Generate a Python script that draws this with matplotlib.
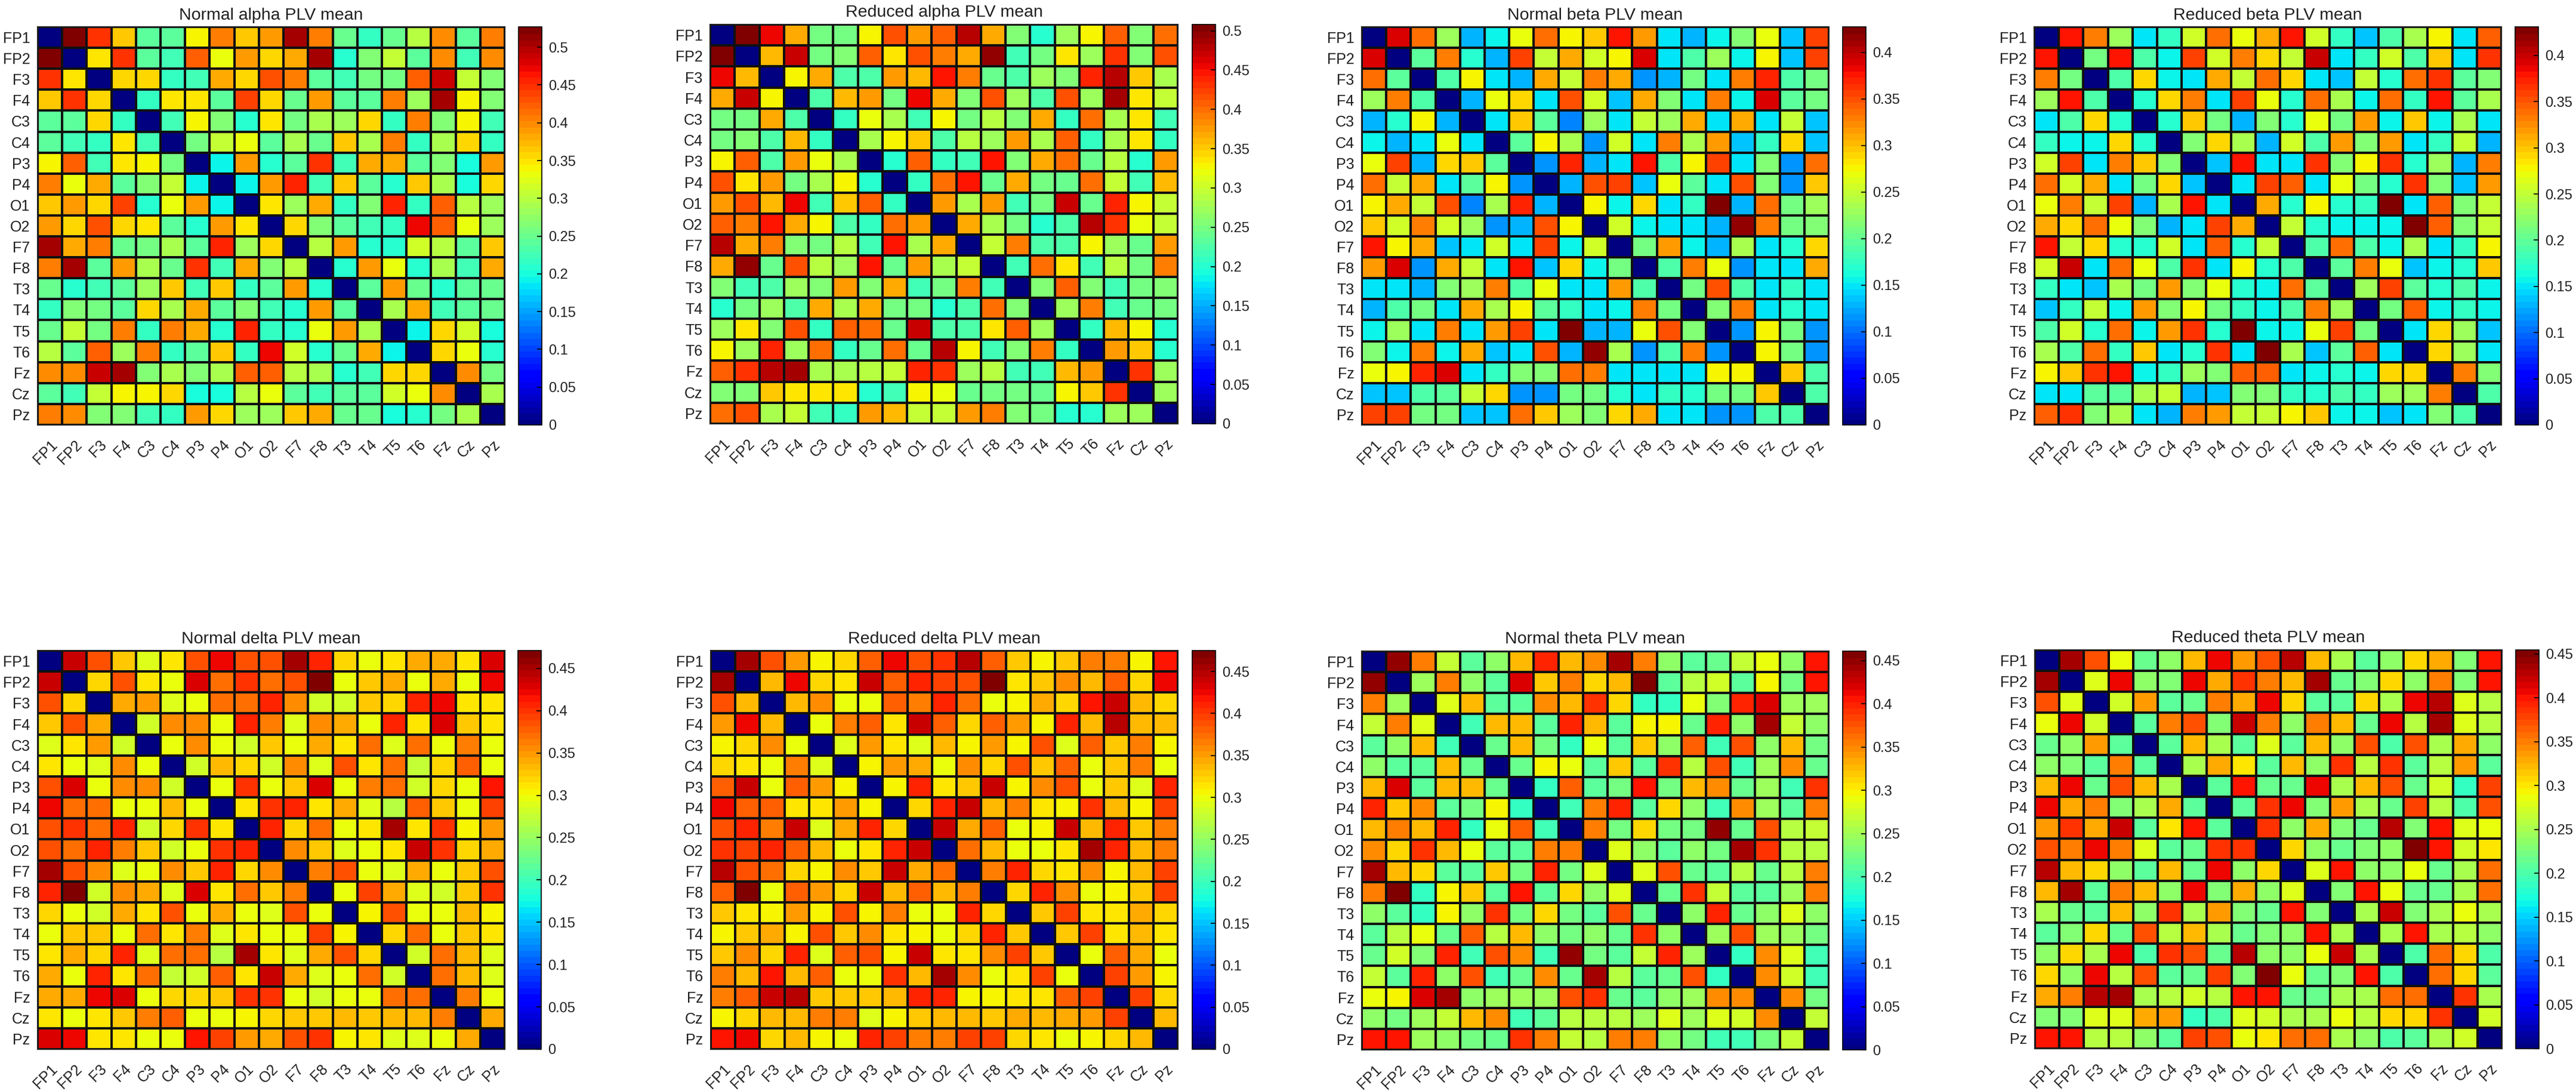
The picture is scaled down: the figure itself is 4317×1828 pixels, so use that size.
import numpy as np
import matplotlib
matplotlib.use("Agg")
import matplotlib.pyplot as plt

plt.rcParams['font.family'] = ['Liberation Sans', 'DejaVu Sans']

channels = ['FP1','FP2','F3','F4','C3','C4','P3','P4','O1','O2','F7','F8','T3','T4','T5','T6','Fz','Cz','Pz']

normal_alpha = [
 [.527,.45,.37,.245,.24,.34,.41,.37,.39,.51,.41,.25,.22,.25,.30,.40,.245,.41],
 [.35,.45,.24,.23,.42,.33,.39,.36,.38,.51,.21,.27,.31,.24,.40,.23,.40],
 [.36,.36,.22,.23,.38,.36,.43,.41,.24,.23,.26,.26,.42,.49,.31,.27],
 [.22,.35,.35,.24,.44,.36,.25,.39,.24,.24,.41,.28,.51,.34,.27],
 [.23,.34,.27,.21,.35,.26,.29,.28,.36,.22,.41,.27,.34,.23],
 [.26,.31,.33,.24,.29,.25,.37,.29,.41,.22,.29,.36,.22],
 [.19,.39,.21,.24,.45,.23,.38,.38,.24,.27,.20,.39],
 [.19,.39,.46,.23,.37,.24,.21,.37,.29,.20,.36],
 [.35,.28,.38,.22,.27,.46,.22,.42,.30,.28],
 [.36,.27,.24,.23,.22,.47,.42,.33,.28],
 [.30,.39,.21,.21,.32,.30,.24,.37],
 [.21,.39,.33,.21,.29,.23,.38],
 [.24,.39,.25,.21,.24,.25],
 [.29,.38,.23,.24,.25],
 [.19,.36,.32,.20],
 [.36,.33,.21],
 [.40,.26],
 [.29],
]
reduced_alpha = [
 [.508,.46,.37,.25,.25,.33,.42,.38,.41,.48,.37,.26,.20,.27,.33,.41,.26,.40],
 [.36,.47,.25,.26,.41,.34,.42,.39,.37,.50,.22,.25,.34,.27,.43,.26,.42],
 [.33,.37,.23,.23,.38,.36,.45,.39,.24,.23,.27,.26,.44,.48,.35,.28],
 [.23,.36,.38,.25,.46,.37,.26,.42,.27,.23,.42,.27,.49,.34,.30],
 [.21,.32,.28,.22,.33,.25,.29,.26,.37,.21,.40,.28,.34,.22],
 [.28,.33,.35,.23,.29,.27,.38,.28,.41,.21,.28,.34,.21],
 [.20,.41,.21,.22,.45,.26,.37,.40,.24,.29,.20,.38],
 [.21,.40,.45,.24,.37,.25,.24,.40,.30,.22,.36],
 [.38,.28,.38,.22,.25,.47,.24,.44,.33,.30],
 [.37,.28,.25,.20,.23,.48,.43,.32,.30],
 [.30,.39,.23,.23,.33,.27,.24,.38],
 [.22,.40,.34,.22,.29,.25,.39],
 [.26,.41,.26,.22,.25,.26],
 [.27,.39,.22,.24,.25],
 [.21,.36,.33,.20],
 [.38,.35,.20],
 [.43,.27],
 [.27],
]
normal_beta = [
 [.39,.34,.23,.13,.16,.27,.34,.28,.30,.38,.32,.15,.13,.16,.22,.27,.14,.36],
 [.20,.33,.17,.13,.36,.25,.31,.26,.28,.39,.15,.19,.23,.16,.28,.14,.36],
 [.19,.28,.15,.13,.31,.25,.33,.31,.12,.13,.21,.15,.33,.37,.19,.21],
 [.13,.27,.29,.15,.35,.26,.14,.31,.22,.15,.33,.16,.39,.20,.21],
 [.15,.30,.20,.11,.23,.15,.25,.23,.31,.15,.31,.15,.25,.14],
 [.20,.28,.24,.12,.26,.15,.33,.24,.32,.14,.18,.29,.14],
 [.12,.37,.13,.15,.38,.19,.28,.36,.15,.22,.12,.34],
 [.13,.35,.36,.14,.27,.20,.15,.35,.22,.12,.30],
 [.28,.16,.29,.15,.18,.4275,.13,.34,.21,.23],
 [.26,.16,.15,.15,.13,.42,.33,.21,.22],
 [.21,.32,.16,.13,.24,.15,.17,.29],
 [.19,.33,.27,.12,.15,.15,.31],
 [.21,.35,.19,.15,.18,.15],
 [.22,.33,.15,.17,.15],
 [.12,.28,.21,.12],
 [.28,.21,.12],
 [.30,.19],
 [.19],
]
reduced_beta = [
 [.38,.33,.23,.15,.18,.26,.34,.27,.31,.38,.26,.18,.14,.19,.24,.28,.15,.35],
 [.21,.38,.19,.16,.36,.26,.33,.29,.25,.40,.15,.18,.26,.19,.30,.15,.37],
 [.19,.29,.16,.15,.31,.25,.34,.29,.15,.14,.25,.17,.34,.37,.20,.22],
 [.17,.29,.33,.15,.36,.27,.17,.34,.24,.16,.34,.18,.38,.20,.24],
 [.17,.30,.21,.13,.22,.17,.27,.21,.32,.16,.30,.16,.24,.15],
 [.22,.29,.24,.13,.26,.19,.32,.22,.32,.15,.18,.25,.13],
 [.14,.38,.15,.15,.37,.22,.28,.37,.17,.23,.13,.33],
 [.15,.36,.35,.15,.27,.21,.17,.37,.22,.14,.32],
 [.31,.17,.28,.17,.18,.431,.15,.35,.22,.25],
 [.25,.17,.16,.16,.16,.431,.35,.22,.25],
 [.19,.34,.19,.16,.24,.15,.18,.28],
 [.20,.33,.27,.14,.16,.17,.30],
 [.23,.36,.20,.17,.19,.16],
 [.21,.35,.16,.18,.16],
 [.15,.29,.23,.14],
 [.29,.23,.15],
 [.33,.22],
 [.19],
]
normal_delta = [
 [.44,.39,.33,.29,.31,.385,.42,.39,.39,.45,.41,.32,.30,.315,.34,.34,.31,.43],
 [.32,.385,.315,.295,.43,.37,.40,.37,.385,.471,.30,.33,.345,.30,.34,.30,.42],
 [.34,.35,.29,.295,.375,.37,.41,.36,.28,.285,.33,.32,.41,.42,.315,.31],
 [.28,.36,.36,.295,.41,.365,.29,.355,.34,.30,.41,.315,.43,.33,.31],
 [.295,.36,.295,.28,.33,.295,.345,.31,.375,.29,.37,.30,.365,.30],
 [.285,.335,.32,.285,.355,.29,.385,.31,.37,.275,.32,.38,.30],
 [.30,.40,.30,.325,.43,.30,.365,.375,.28,.32,.295,.415],
 [.31,.40,.41,.315,.34,.29,.265,.38,.325,.295,.395],
 [.41,.32,.37,.295,.31,.45,.31,.40,.305,.35],
 [.36,.325,.29,.295,.315,.44,.40,.32,.345],
 [.365,.39,.30,.29,.34,.295,.33,.39],
 [.30,.395,.345,.29,.285,.325,.40],
 [.305,.385,.295,.30,.335,.305],
 [.32,.37,.30,.325,.31],
 [.28,.37,.335,.29],
 [.37,.335,.29],
 [.365,.295],
 [.345],
]
reduced_delta = [
 [.46,.39,.35,.31,.32,.38,.43,.39,.405,.45,.38,.33,.305,.33,.37,.365,.31,.42],
 [.335,.43,.325,.315,.44,.385,.415,.395,.39,.475,.315,.33,.36,.335,.38,.32,.43],
 [.335,.36,.30,.30,.38,.37,.415,.375,.30,.31,.345,.325,.42,.44,.335,.325],
 [.30,.37,.385,.315,.44,.38,.32,.385,.35,.31,.415,.335,.45,.335,.34],
 [.295,.35,.315,.295,.335,.305,.35,.31,.39,.295,.38,.33,.37,.31],
 [.305,.355,.345,.30,.36,.32,.39,.33,.385,.30,.33,.37,.30],
 [.305,.41,.315,.33,.44,.305,.36,.39,.30,.33,.295,.415],
 [.325,.415,.44,.335,.365,.315,.305,.405,.34,.305,.40],
 [.44,.345,.38,.30,.31,.44,.34,.415,.33,.37],
 [.375,.34,.30,.30,.315,.46,.41,.335,.365],
 [.37,.415,.325,.315,.36,.31,.335,.40],
 [.32,.415,.36,.30,.31,.33,.40],
 [.33,.40,.315,.315,.345,.325],
 [.33,.395,.315,.34,.315],
 [.30,.38,.345,.30],
 [.395,.35,.305],
 [.40,.32],
 [.34],
]
normal_theta = [
 [.45,.36,.27,.21,.24,.33,.40,.33,.35,.44,.36,.24,.21,.22,.27,.29,.24,.41],
 [.25,.36,.24,.21,.42,.32,.36,.31,.33,.461,.21,.26,.28,.21,.30,.23,.41],
 [.285,.33,.21,.21,.35,.33,.39,.31,.19,.19,.29,.235,.40,.42,.25,.25],
 [.20,.33,.33,.21,.40,.33,.21,.30,.30,.22,.40,.24,.44,.27,.24],
 [.22,.33,.23,.19,.29,.21,.32,.24,.37,.20,.38,.24,.33,.23],
 [.22,.30,.29,.21,.32,.21,.39,.26,.38,.20,.25,.35,.22],
 [.19,.37,.21,.23,.41,.23,.33,.35,.22,.25,.20,.39],
 [.20,.36,.40,.21,.31,.24,.20,.35,.25,.21,.36],
 [.36,.23,.31,.23,.23,.45,.22,.38,.26,.27],
 [.285,.24,.21,.24,.23,.44,.39,.26,.26],
 [.285,.38,.22,.21,.26,.22,.26,.36],
 [.22,.39,.27,.21,.21,.25,.36],
 [.24,.40,.22,.24,.285,.24],
 [.25,.38,.25,.25,.23],
 [.19,.35,.285,.20],
 [.35,.28,.20],
 [.35,.23],
 [.27],
]
reduced_theta = [
 [.44,.37,.29,.22,.24,.32,.41,.34,.37,.43,.32,.25,.21,.24,.31,.33,.23,.40],
 [.28,.41,.24,.23,.41,.33,.39,.35,.32,.44,.22,.23,.31,.24,.35,.23,.40],
 [.27,.34,.21,.22,.35,.33,.41,.31,.21,.21,.31,.25,.41,.43,.28,.26],
 [.21,.35,.37,.23,.42,.35,.24,.35,.32,.22,.41,.26,.44,.28,.26],
 [.21,.32,.25,.21,.28,.21,.32,.24,.37,.20,.37,.25,.33,.24],
 [.25,.33,.30,.21,.32,.24,.39,.26,.39,.21,.26,.34,.21],
 [.21,.40,.22,.22,.41,.25,.32,.37,.22,.27,.19,.38],
 [.21,.39,.41,.23,.34,.25,.22,.38,.26,.20,.37],
 [.39,.24,.33,.23,.22,.43,.23,.40,.28,.29],
 [.31,.24,.22,.23,.24,.4545,.40,.27,.30],
 [.28,.40,.24,.24,.285,.22,.25,.36],
 [.23,.40,.285,.22,.22,.25,.36],
 [.25,.42,.23,.25,.285,.25],
 [.25,.40,.25,.26,.24],
 [.20,.36,.31,.20],
 [.36,.31,.21],
 [.39,.25],
 [.27],
]

titles = ['Normal alpha PLV mean','Reduced alpha PLV mean','Normal beta PLV mean','Reduced beta PLV mean',
          'Normal delta PLV mean','Reduced delta PLV mean','Normal theta PLV mean','Reduced theta PLV mean']
panels = [normal_alpha,reduced_alpha,normal_beta,reduced_beta,normal_delta,reduced_delta,normal_theta,reduced_theta]
vmaxes = [.527,.508,.4275,.431,.471,.475,.461,.4545]

# layout in pixels: left, right, top, bottom of the matrix; colourbar left, right
W, H = 4317, 1828
boxes = [(63,846,45,712,869,908),(1190,1974,41,710,1998,2037),(2282,3065,45,712,3088,3127),(3409,4192,45,712,4215,4254),
         (63,846,1090,1758,868,907),(1191,1974,1090,1758,1998,2037),(2282,3065,1091,1759,3088,3127),(3410,4193,1089,1757,4216,4255)]

def full_matrix(upper):
    m = np.zeros((19,19))
    for i,row in enumerate(upper):
        for k,v in enumerate(row):
            m[i,i+1+k] = v
            m[i+1+k,i] = v
    return m

fig = plt.figure(figsize=(W/100,H/100),dpi=100,facecolor='white')
cmap = plt.get_cmap('jet',64)
tick_vals = [.05*i for i in range(11)]
tick_txt = ['0','0.05','0.1','0.15','0.2','0.25','0.3','0.35','0.4','0.45','0.5']

for upper,title,vmax,b in zip(panels,titles,vmaxes,boxes):
    l,r,t,bt,cl,cr = b
    ax = fig.add_axes([l/W,1-bt/H,(r-l)/W,(bt-t)/H])
    m = full_matrix(upper)
    mesh = ax.pcolormesh(np.arange(20),np.arange(20),m,cmap=cmap,vmin=0,vmax=vmax,edgecolors='#101010',linewidth=1.5)
    ax.set_xlim(0,19); ax.set_ylim(19,0)
    ax.set_xticks(np.arange(19)+.5); ax.set_yticks(np.arange(19)+.5)
    ax.set_xticklabels(channels,rotation=45,ha='right',rotation_mode='anchor',fontsize=18,color='#202020')
    ax.set_yticklabels(channels,fontsize=18,color='#202020')
    ax.tick_params(axis='y',length=0,pad=9)
    ax.tick_params(axis='x',length=0,pad=15)
    for s in ax.spines.values():
        s.set_linewidth(1.5); s.set_color('#202020')
    ax.set_title(title,fontsize=20.5,color='#202020',pad=9)
    cax = fig.add_axes([cl/W,1-bt/H,(cr-cl)/W,(bt-t)/H])
    cb = fig.colorbar(mesh,cax=cax)
    ticks = [v for v in tick_vals if v <= vmax]
    cb.set_ticks(ticks)
    cb.set_ticklabels(tick_txt[:len(ticks)])
    cb.solids.set_edgecolor('face')
    cax.tick_params(direction='in',length=6,width=1.2,labelsize=17,labelcolor='#202020',pad=8)
    cb.outline.set_linewidth(1.2)

fig.savefig('out.png',dpi=100)
